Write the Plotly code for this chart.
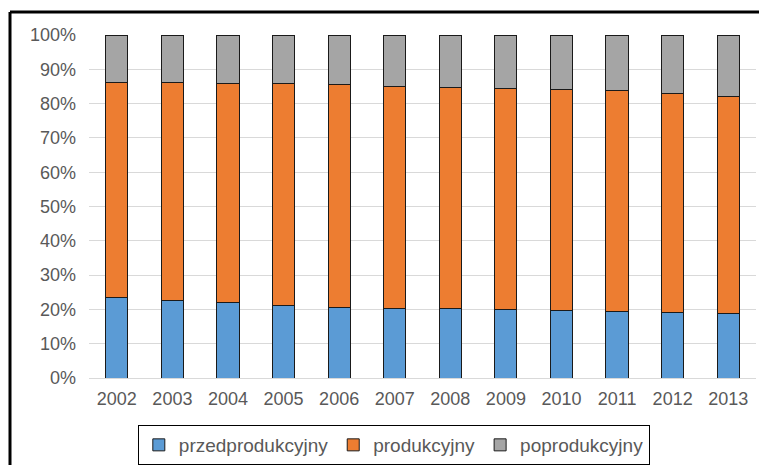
import plotly.graph_objects as go

years = ["2002", "2003", "2004", "2005", "2006", "2007", "2008", "2009", "2010", "2011", "2012", "2013"]
przedprodukcyjny = [23.5, 22.6, 22.1, 21.2, 20.6, 20.4, 20.2, 20.0, 19.7, 19.4, 19.2, 18.9]
produkcyjny = [62.7, 63.6, 63.8, 64.7, 65.0, 64.7, 64.5, 64.4, 64.5, 64.3, 63.8, 63.2]
poprodukcyjny = [13.8, 13.8, 14.1, 14.1, 14.4, 14.9, 15.3, 15.6, 15.8, 16.3, 17.0, 17.9]

series = [
    ("przedprodukcyjny", przedprodukcyjny, "#5b9bd5"),
    ("produkcyjny", produkcyjny, "#ed7d31"),
    ("poprodukcyjny", poprodukcyjny, "#a5a5a5"),
]

fig = go.Figure()
for name, vals, color in series:
    fig.add_trace(go.Bar(
        x=years, y=vals, name=name,
        marker=dict(color=color, line=dict(color="#1a1a1a", width=1)),
    ))

# page body has an 8px margin; figure sized to fit the remaining window
W, H = 759, 457
L, R, T, B = 81, 11, 27, 87
pw, ph = W - L - R, H - T - B

font = dict(family="Liberation Sans, Arial, sans-serif", size=18, color="#595959")
lfont = dict(family="Liberation Sans, Arial, sans-serif", size=19, color="#595959")

bx = (2 - L) / pw
by = 1 + (T - 4) / ph

fig.update_layout(
    width=W, height=H,
    margin=dict(l=L, r=R, t=T, b=B, autoexpand=False),
    barmode="stack", bargap=0.6,
    plot_bgcolor="white", paper_bgcolor="white",
    font=font,
    showlegend=True,
    legend=dict(
        orientation="h", x=0.457, xanchor="center",
        yref="container", y=1 - 417 / H, yanchor="top",
        bordercolor="#000000", borderwidth=1, font=lfont,
        traceorder="normal", itemwidth=30,
    ),
    xaxis=dict(type="category", showgrid=False, showline=False, ticks="",
               automargin=False, ticklabelstandoff=8, tickfont=font),
    yaxis=dict(range=[0, 100], dtick=10, ticksuffix="%", showgrid=True,
               gridcolor="#d9d9d9", gridwidth=1, zeroline=True,
               zerolinecolor="#d9d9d9", zerolinewidth=1, showline=False,
               automargin=False, ticks="", ticklabelstandoff=12, tickfont=font),
    shapes=[
        dict(type="line", xref="paper", yref="paper", x0=bx, x1=bx, y0=by, y1=-0.5,
             line=dict(color="black", width=3)),
        dict(type="line", xref="paper", yref="paper", x0=bx, x1=1.2, y0=by, y1=by,
             line=dict(color="black", width=3)),
    ],
)

fig.write_html("out.html")
